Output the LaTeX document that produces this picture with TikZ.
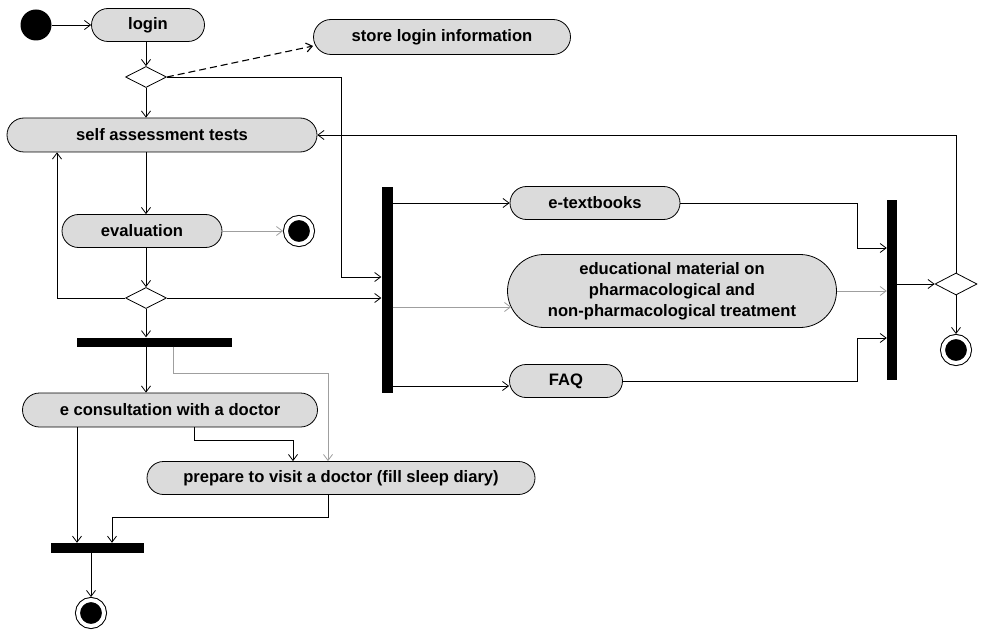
\documentclass[tikz,border=0pt]{standalone}
\usepackage{fontspec}
\setmainfont{Liberation Sans}
\usepackage{tikz}
\usetikzlibrary{arrows.meta,
shapes.geometric}

\begin{document}
\begin{tikzpicture}[
    x=1pt,
    y=-1pt,
    font=\fontsize{16.6}{19}\selectfont\bfseries,
    >={Straight Barb[length=6pt,width=9pt]},
    activity/.style={
        draw,
        line width=0.8pt,
        fill=gray!28,
        rounded corners=16.5pt,
        minimum height=33pt,
        inner sep=2pt
    },
    decision/.style={
        draw,
        diamond,
        fill=white,
        line width=0.8pt,
        minimum width=41pt,
        minimum height=21pt,
        inner sep=0pt
    },
    syncBar/.style={
        fill=black,
        inner sep=0pt
    },
    initial/.style={
        circle,
        fill=black,
        minimum size=31pt,
        inner sep=0pt
    },
    final/.style={
        circle,
        fill=black,
        draw=black,
        double=white,
        double distance=4pt,
        line width=1pt,
        minimum size=26pt,
        inner sep=0pt,
        outer sep=3pt
    },
    flow/.style={
        ->,
        line width=0.8pt
    },
    weakFlow/.style={
        flow,
        draw=gray!75
    }
]

\useasboundingbox (0,0) rectangle (982,631);

%------------------------------------------------------------------------------
% Login and self assessment
%------------------------------------------------------------------------------

\node[initial] (start) at (36,25) {};

\node[activity, minimum width=113pt] (login) at (148,25) {login};

\node[
    activity,
    minimum width=257pt,
    minimum height=35pt,
    rounded corners=17.5pt
] (storeInfo) at (442,37) {store login information};

\node[decision] (decLogin) at (146,77) {};

\node[
    activity,
    minimum width=310pt,
    minimum height=34pt,
    rounded corners=17pt
] (selfTest) at (162,135) {self assessment tests};

\node[activity, minimum width=160pt] (evaluation) at (142,231) {evaluation};

\node[final] (endEval) at (299,231) {};

\node[decision] (decEval) at (146,298) {};

%------------------------------------------------------------------------------
% Learning material (parallel)
%------------------------------------------------------------------------------

\node[syncBar, minimum width=11pt, minimum height=206pt] (forkA) at (387,290) {};

\node[activity, minimum width=170pt] (eBooks) at (595,203) {e-textbooks};

\node[
    activity,
    minimum width=329pt,
    minimum height=73pt,
    rounded corners=36.5pt,
    align=center,
    font=\fontsize{16.6}{21}\selectfont\bfseries
] (eduMaterial) at (672,291) {
    educational material on\\
    pharmacological and\\
    non-pharmacological treatment
};

\node[activity, minimum width=113pt] (faq) at (566,381) {FAQ};

\node[syncBar, minimum width=10pt, minimum height=180pt] (joinA) at (892,290) {};

\node[decision, minimum width=42pt, minimum height=22pt] (decExit) at (956,284) {};

\node[final] (endExit) at (956,350) {};

\coordinate (eduIn) at ([shift={(4pt,-16pt)}]eduMaterial.west);

%------------------------------------------------------------------------------
% Doctor branch
%------------------------------------------------------------------------------

\node[syncBar, minimum width=155pt, minimum height=9pt] (forkB) at (154,342) {};

\node[
    activity,
    minimum width=295pt,
    minimum height=34pt,
    rounded corners=17pt
] (eConsult) at (170,410) {e consultation with a doctor};

\node[activity, minimum width=388pt] (prepare) at (341,478)
    {prepare to visit a doctor (fill sleep diary)};

\node[syncBar, minimum width=93pt, minimum height=10pt] (joinB) at (97,548) {};

\node[final] (endMain) at (91,613) {};

%------------------------------------------------------------------------------
% Control flow
%------------------------------------------------------------------------------

\draw[flow] (start.east) -- (login.west);
\draw[flow] (decLogin |- login.south) -- (decLogin.north);

\draw[flow, dash pattern=on 7pt off 4pt, line width=1.1pt]
    (decLogin.east)
    --
    ([yshift=-9pt]storeInfo.west);

\draw[flow]
    (decLogin.east)
    -- ++(174,0)
    |- ([yshift=13pt]forkA.west);

\draw[flow] (decLogin.south) -- (decLogin |- selfTest.north);
\draw[flow] (decLogin |- selfTest.south) -- (decLogin |- evaluation.north);
\draw[weakFlow] (evaluation.east) -- (endEval.west);
\draw[flow] (decLogin |- evaluation.south) -- (decEval.north);

\draw[flow] (decEval.west) -| ([xshift=-105pt]selfTest.south);
\draw[flow] (decEval.east) -- (decEval.east -| forkA.west);
\draw[flow] (decEval.south) -- (decEval |- forkB.north);

%------------------------------------------------------------------------------
% Fork and join of the learning material
%------------------------------------------------------------------------------

\draw[flow] (forkA.east |- eBooks.west) -- (eBooks.west);
\draw[weakFlow] (forkA.east |- eduIn) -- (eduIn);
\draw[flow] ([yshift=-5pt]forkA.east |- faq.west) -- ([yshift=-5pt]faq.west);

\draw[flow]
    (eBooks.east)
    -- ++(177,0)
    |- ([yshift=42pt]joinA.west);

\draw[weakFlow] (eduMaterial.east) -- (eduMaterial.east -| joinA.west);

\draw[flow]
    (faq.east)
    -- ++(234,0)
    |- ([yshift=-48pt]joinA.west);

\draw[flow] (joinA.east |- decExit.west) -- (decExit.west);
\draw[flow] (decExit.north) |- (selfTest.east);
\draw[flow] (decExit.south) -- (endExit.north);

%------------------------------------------------------------------------------
% Fork and join of the doctor branch
%------------------------------------------------------------------------------

\draw[flow] (decEval |- forkB.south) -- (decEval |- eConsult.north);

\draw[weakFlow]
    ([xshift=19pt]forkB.south)
    -- ++(0,27)
    -| ([xshift=-13pt]prepare.north);

\draw[flow]
    ([xshift=24pt]eConsult.south)
    -- ++(0,13)
    -| ([xshift=-48pt]prepare.north);

\draw[flow] ([xshift=-93pt]eConsult.south) -- ([xshift=-20pt]joinB.north);

\draw[flow]
    ([xshift=-13pt]prepare.south)
    -- ++(0,22)
    -| ([xshift=15pt]joinB.north);

\draw[flow] (endMain |- joinB.south) -- (endMain.north);

\end{tikzpicture}
\end{document}
